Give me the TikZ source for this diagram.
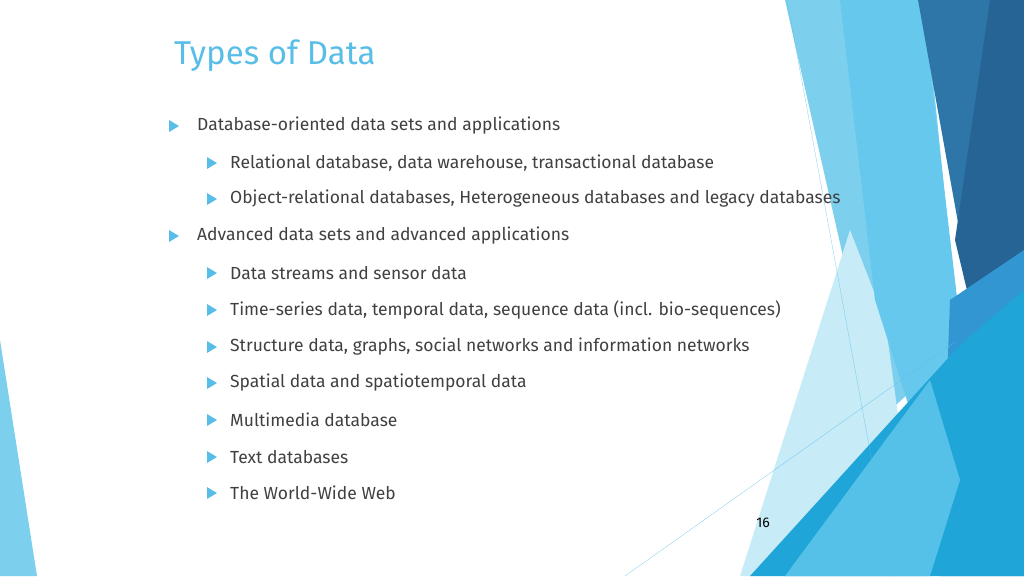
\documentclass[tikz,border=0pt]{standalone}
\usepackage{fontspec}
\setmainfont{Fira Sans}
\usepackage{xcolor}
\definecolor{titleblue}{RGB}{88,190,232}
\definecolor{textgray}{RGB}{64,64,64}
\definecolor{paleblue}{RGB}{200,235,248}
\definecolor{lightblue}{RGB}{125,207,238}
\definecolor{midblue}{RGB}{102,200,236}
\definecolor{darkblue}{RGB}{47,118,168}
\definecolor{deepblue}{RGB}{38,100,150}
\definecolor{brightblue}{RGB}{31,165,216}
\definecolor{seablue}{RGB}{50,150,210}
\definecolor{skyblue}{RGB}{85,192,232}

\begin{document}
\begin{tikzpicture}[x=1pt, y=-1pt]
			\useasboundingbox (0,0) rectangle (1024,576);
			\tikzset{item/.style={anchor=west, inner sep=0pt, text=textgray, font=\fontsize{17.5}{21}\selectfont},
				bullet/.style={fill=titleblue}}

			% Background shapes on the right
			\fill[lightblue] (785,0) -- (925,0) -- (960,345) -- (880,420) -- cycle;
			\fill[paleblue] (850,230) -- (885,320) -- (920,576) -- (740,576) -- cycle;
			\fill[midblue] (840,0) -- (922,0) -- (962,340) -- (910,410) -- (875,300) -- cycle;
			\fill[darkblue] (918,0) -- (1024,0) -- (1024,290) -- (980,345) -- cycle;
			\fill[deepblue] (990,0) -- (1024,0) -- (1024,290) -- (980,345) -- (955,240) -- cycle;
			\fill[seablue] (950,300) -- (1024,250) -- (1024,576) -- (940,576) -- cycle;
			\fill[brightblue] (750,576) -- (960,345) -- (1024,290) -- (1024,576) -- cycle;
			\fill[skyblue] (785,576) -- (930,380) -- (960,480) -- (930,576) -- cycle;

			% Thin lines
			\draw[titleblue, very thin] (787,0) -- (893,576);
			\draw[titleblue, very thin] (625,576) -- (955,342);

			% Left edge shape
			\fill[lightblue] (0,340) -- (37,576) -- (0,576) -- cycle;

			% Title and page number
			\node[anchor=west, inner sep=0pt, text=titleblue, font=\fontsize{33}{38}\selectfont] (title) at (174,56) {Types of Data};
			\node[font=\fontsize{14}{16}\selectfont] (page) at (763,523) {16};

			% First level items
			\node[item] (db) at (197,126) {Database-oriented data sets and applications};
			\node[item] (adv) at (197,236) {Advanced data sets and advanced applications};

			% Second level items
			\node[item] (rel) at (230,163) {Relational database, data warehouse, transactional database};
			\node[item] (obj) at (230,199) {Object-relational databases, Heterogeneous databases and legacy databases};
			\node[item] (stream) at (230,273) {Data streams and sensor data};
			\node[item] (time) at (230,310) {Time-series data, temporal data, sequence data (incl. bio-sequences)};
			\node[item] (graph) at (230,347) {Structure data, graphs, social networks and information networks};
			\node[item] (spatial) at (230,383) {Spatial data and spatiotemporal data};
			\node[item] (media) at (230,420) {Multimedia database};
			\node[item] (textdb) at (230,457) {Text databases};
			\node[item] (web) at (230,493) {The World-Wide Web};

			% Bullets
			\foreach \y in {126,236}
			\fill[bullet] (169,\y-6) -- (179,\y) -- (169,\y+6) -- cycle;
			\foreach \y in {163,199,273,310,347,383,420,457,493}
			\fill[bullet] (207,\y-6) -- (217,\y) -- (207,\y+6) -- cycle;
		\end{tikzpicture}
\end{document}
